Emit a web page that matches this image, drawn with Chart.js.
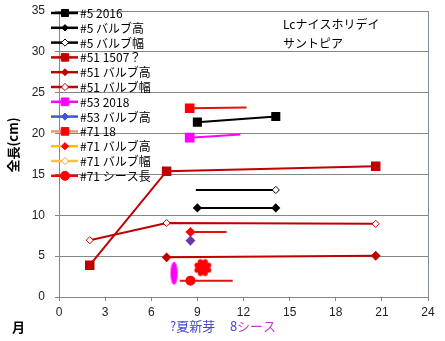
<!DOCTYPE html>
<html>
<head>
<meta charset="utf-8">
<script src="https://cdn.jsdelivr.net/npm/chart.js@4.4.1/dist/chart.umd.min.js"></script>
<style>
  html, body { margin: 0; padding: 0; background: #fff; }
  #wrap { width: 445px; height: 341px; }
</style>
</head>
<body>
<div id="wrap"><canvas id="chart" width="445" height="341"></canvas></div>
<script>
// 月 (x) / 全長 cm (y)
const s5_2016_x = [9.0, 14.1];
const s5_2016_y = [21.4, 22.1];
const s5_bulbH_x = [9.0, 14.1];
const s5_bulbH_y = [10.9, 10.9];
const s5_bulbW_x = [8.9, 14.1];
const s5_bulbW_y = [13.1, 13.1];

const s51_x = [2.0, 7.0, 20.6];
const s51_y = [3.9, 15.4, 16.0];
const s51_bulbH_x = [7.0, 20.6];
const s51_bulbH_y = [4.85, 5.05];
const s51_bulbW_x = [2.0, 7.0, 20.6];
const s51_bulbW_y = [6.95, 9.05, 8.95];

const s53_2018_x = [8.5, 11.8];
const s53_2018_y = [19.5, 19.9];
const s53_bulbH_x = [8.55];
const s53_bulbH_y = [6.9];

const s71_18_x = [8.5, 12.2];
const s71_18_y = [23.1, 23.2];
const s71_bulbH_x = [8.55, 10.9];
const s71_bulbH_y = [7.95, 7.95];
const s71_bulbW_x = [];
const s71_bulbW_y = [];
const s71_sheath_x = [7.85, 8.55, 11.3];
const s71_sheath_y = [2.0, 2.0, 2.0];

// hand drawn marks on the sheet
const markEllipse_x = [7.48];
const markEllipse_y = [2.9];
const markFlower_x = [9.35];
const markFlower_y = [3.6];

const legendLabels = ['#5 2016', '#5 バルブ高', '#5 バルブ幅', '#51 1507？', '#51 バルブ高', '#51 バルブ幅',
  '#53 2018', '#53 バルブ高', '#71 18', '#71 バルブ高', '#71 バルブ幅', '#71 シース長'];

function pts(xs, ys) {
  return xs.map((x, i) => ({ x: x, y: ys[i] }));
}

function makeEllipse() {
  const c = document.createElement('canvas');
  c.width = 9; c.height = 25;
  const g = c.getContext('2d');
  g.fillStyle = '#ff00ff';
  g.beginPath();
  g.ellipse(4.5, 12.5, 3.6, 11.5, 0, 0, Math.PI * 2);
  g.fill();
  return c;
}

function makeFlower() {
  const c = document.createElement('canvas');
  c.width = 20; c.height = 20;
  const g = c.getContext('2d');
  g.fillStyle = '#ff0000';
  g.beginPath();
  g.arc(10, 10, 6, 0, Math.PI * 2);
  g.fill();
  for (let i = 0; i < 8; i++) {
    const a = i * Math.PI / 4 + Math.PI / 8;
    g.beginPath();
    g.arc(10 + Math.cos(a) * 6.3, 10 + Math.sin(a) * 6.3, 2.6, 0, Math.PI * 2);
    g.fill();
  }
  return c;
}

const DRED = '#c00000';

const datasets = [
  { data: pts(s5_2016_x, s5_2016_y), borderColor: '#000', pointStyle: 'rect', pointRadius: 5, pointBackgroundColor: '#000', pointBorderColor: '#000' },
  { data: pts(s5_bulbH_x, s5_bulbH_y), borderColor: '#000', pointStyle: 'rectRot', pointRadius: 3.2, pointBackgroundColor: '#000', pointBorderColor: '#000' },
  { data: pts(s5_bulbW_x, s5_bulbW_y), borderColor: '#000', pointStyle: 'rectRot', pointRadius: [0, 3.6], pointBackgroundColor: '#fff', pointBorderColor: '#000', pointBorderWidth: 1, legendRadius: 3.6 },
  { data: pts(s51_x, s51_y), borderColor: DRED, pointStyle: 'rect', pointRadius: 5.3, pointBackgroundColor: DRED, pointBorderColor: DRED },
  { data: pts(s51_bulbH_x, s51_bulbH_y), borderColor: DRED, pointStyle: 'rectRot', pointRadius: 3.5, pointBackgroundColor: DRED, pointBorderColor: DRED },
  { data: pts(s51_bulbW_x, s51_bulbW_y), borderColor: DRED, pointStyle: 'rectRot', pointRadius: 3.6, pointBackgroundColor: '#fff', pointBorderColor: DRED, pointBorderWidth: 1 },
  { data: pts(s53_2018_x, s53_2018_y), borderColor: '#ff00ff', pointStyle: 'rect', pointRadius: [5.4, 0], pointBackgroundColor: '#ff00ff', pointBorderColor: '#ff00ff', legendRadius: 5.4 },
  { data: pts(s53_bulbH_x, s53_bulbH_y), borderColor: '#3a56d6', pointStyle: 'rectRot', pointRadius: 3.6, pointBackgroundColor: '#6a3aa8', pointBorderColor: '#6a3aa8', legendPoint: '#3a56d6' },
  { data: pts(s71_18_x, s71_18_y), borderColor: '#e01212', pointStyle: 'rect', pointRadius: [5.4, 0], pointBackgroundColor: '#ff0000', pointBorderColor: '#ff0000', legendLine: '#ee9a6a', legendRadius: 5.4 },
  { data: pts(s71_bulbH_x, s71_bulbH_y), borderColor: '#e01212', pointStyle: 'rectRot', pointRadius: [3.6, 0], pointBackgroundColor: '#ff0000', pointBorderColor: '#ff0000', legendLine: '#ffc000', legendRadius: 3.6 },
  { data: pts(s71_bulbW_x, s71_bulbW_y), borderColor: '#f8c24a', pointStyle: 'rectRot', pointRadius: 3.6, pointBackgroundColor: '#fff', pointBorderColor: '#f0a030', pointBorderWidth: 1 },
  { data: pts(s71_sheath_x, s71_sheath_y), borderColor: '#e01212', pointStyle: 'circle', pointRadius: [0, 4, 0], pointBackgroundColor: '#ff0000', pointBorderColor: '#ff0000', legendLine: '#ff0000', legendRadius: 4.5 },
  { data: pts(markEllipse_x, markEllipse_y), showLine: false, pointStyle: makeEllipse(), noLegend: true },
  { data: pts(markFlower_x, markFlower_y), showLine: false, pointStyle: makeFlower(), noLegend: true }
];

datasets.forEach((d, i) => {
  if (!d.noLegend) d.label = legendLabels[i];
  d.borderWidth = 2;
  if (d.showLine === undefined) d.showLine = true;
  d.tension = 0;
});

const JP = '"Noto Sans CJK JP", sans-serif';

// legend with line + marker, drawn over the plot like the sheet
const lineLegend = {
  id: 'lineLegend',
  afterDatasetsDraw(chart) {
    const ctx = chart.ctx;
    ctx.save();
    ctx.font = '12px ' + JP;
    ctx.textBaseline = 'middle';
    let n = 0;
    chart.data.datasets.forEach(ds => {
      if (ds.noLegend) return;
      const y = 13 + n * 14.8;
      n++;
      ctx.strokeStyle = ds.legendLine || ds.borderColor;
      ctx.lineWidth = 2.5;
      ctx.beginPath();
      ctx.moveTo(51, y);
      ctx.lineTo(78, y);
      ctx.stroke();
      const r = ds.legendRadius || (Array.isArray(ds.pointRadius) ? Math.max(...ds.pointRadius) : ds.pointRadius);
      ctx.fillStyle = ds.legendPoint || ds.pointBackgroundColor;
      ctx.strokeStyle = ds.legendPoint || ds.pointBorderColor;
      ctx.lineWidth = ds.pointBorderWidth || 1;
      Chart.helpers.drawPoint(ctx, { pointStyle: ds.pointStyle, radius: r, borderWidth: ctx.lineWidth }, 65, y);
      ctx.fillStyle = '#000';
      ctx.fillText(ds.label, 80, y + 0.5);
    });
    ctx.restore();
  }
};

const sheetText = {
  id: 'sheetText',
  afterDraw(chart) {
    const ctx = chart.ctx;
    ctx.save();
    ctx.textBaseline = 'middle';
    ctx.fillStyle = '#000';
    ctx.font = '12px ' + JP;
    ctx.fillText('Lcナイスホリデイ', 283, 24);
    ctx.fillText('サントピア', 283, 43);

    ctx.font = 'bold 13px ' + JP;
    ctx.fillText('月', 12, 327);

    ctx.save();
    ctx.translate(13, 145);
    ctx.rotate(-Math.PI / 2);
    ctx.textAlign = 'center';
    ctx.fillText('全長(cm)', 0, 0);
    ctx.restore();

    ctx.font = '13px ' + JP;
    ctx.fillStyle = '#4646d2';
    ctx.fillText('?夏新芽', 170, 326);
    ctx.fillText('8', 230, 326);
    ctx.fillStyle = '#c23cc8';
    ctx.fillText('シース', 237, 326);
    ctx.restore();
  }
};

const tickFont = { family: '"Liberation Sans", Arial, sans-serif', size: 12 };

new Chart(document.getElementById('chart'), {
  type: 'scatter',
  data: { datasets: datasets },
  options: {
    responsive: false,
    animation: false,
    devicePixelRatio: 1,
    layout: { padding: { top: 11, right: 17, left: 0, bottom: 0 } },
    plugins: { legend: { display: false }, tooltip: { enabled: false } },
    scales: {
      x: {
        type: 'linear',
        min: 0, max: 24,
        ticks: { stepSize: 3, color: '#222', font: tickFont, padding: 4, maxRotation: 0 },
        grid: {
          color: c => c.tick && c.tick.value === 24 ? '#7d8ca0' : 'rgba(0,0,0,0)',
          tickColor: '#868686',
          tickLength: 4
        },
        border: { color: '#868686' },
        afterFit: s => { s.height = 44; }
      },
      y: {
        min: 0, max: 35,
        ticks: { stepSize: 5, color: '#222', font: tickFont, padding: 10 },
        grid: { color: '#868686', tickColor: '#868686', tickLength: 4 },
        border: { color: '#868686' },
        afterFit: s => { s.width = 59; s.paddingTop = 0; s.paddingBottom = 0; }
      }
    }
  },
  plugins: [lineLegend, sheetText]
});
</script>
</body>
</html>
